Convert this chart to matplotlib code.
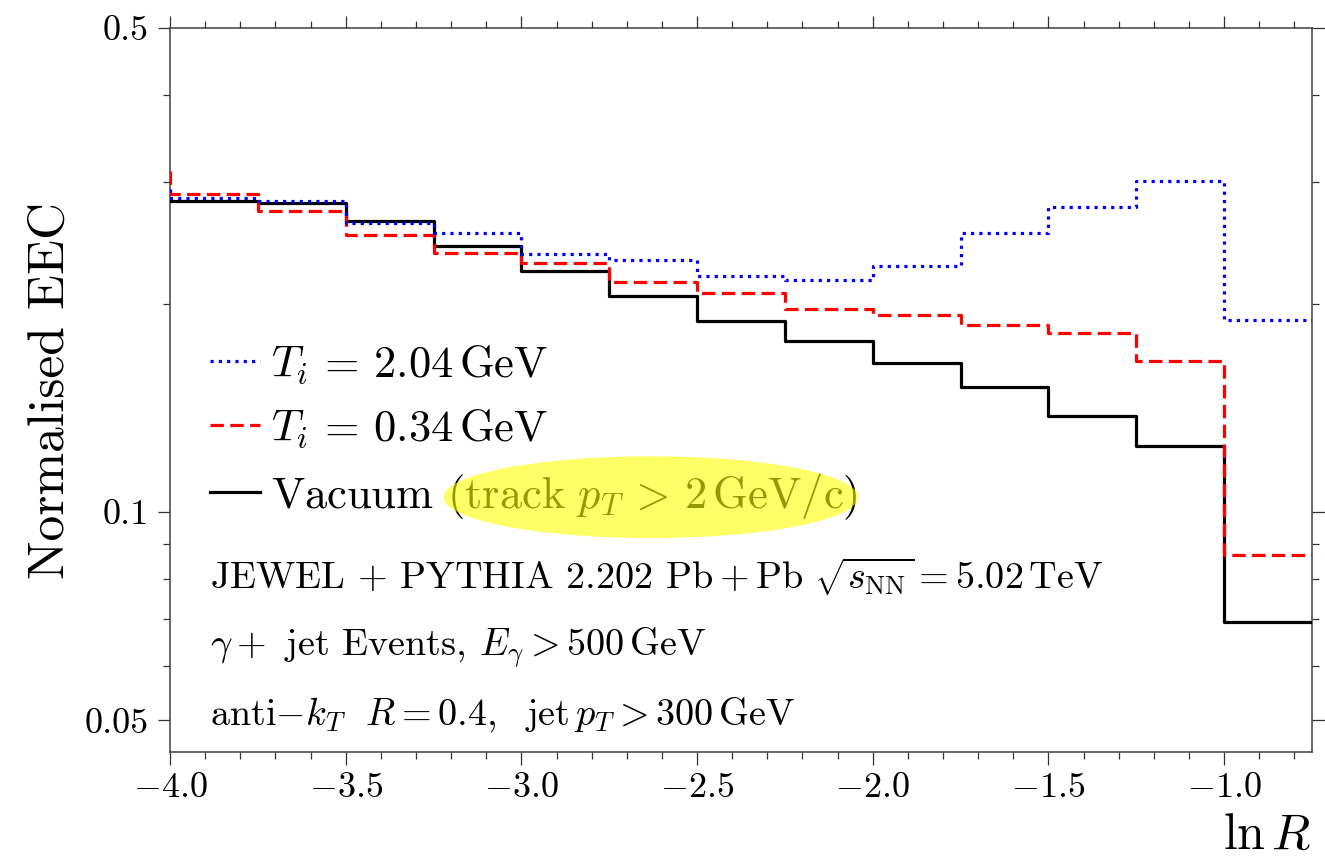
import numpy as np
import matplotlib
matplotlib.use('Agg')
import matplotlib.pyplot as plt
from matplotlib.patches import Ellipse
from matplotlib.ticker import MultipleLocator, NullFormatter, FixedLocator

plt.rcParams['font.family'] = 'serif'
plt.rcParams['font.serif'] = ['cmr10']
plt.rcParams['mathtext.fontset'] = 'cm'
plt.rcParams['axes.formatter.use_mathtext'] = True

# bin edges in ln R
lnR_edges = [-4.0, -3.75, -3.5, -3.25, -3.0, -2.75, -2.5, -2.25, -2.0,
             -1.75, -1.5, -1.25, -1.0, -0.75]

# normalised EEC per bin
hot_vals = [0.284, 0.2816, 0.2612, 0.2526, 0.2358, 0.2312, 0.2192, 0.2163,
            0.2266, 0.2526, 0.2760, 0.3009, 0.1891]      # T_i = 2.04 GeV
cold_vals = [0.288, 0.272, 0.2513, 0.2368, 0.2286, 0.2147, 0.2074, 0.1963,
             0.1926, 0.1863, 0.1812, 0.1652, 0.0867]     # T_i = 0.34 GeV
vac_vals = [0.2816, 0.2797, 0.2635, 0.2422, 0.2231, 0.2051, 0.1888, 0.1766,
            0.1643, 0.1514, 0.1374, 0.1246, 0.0693]      # vacuum

# value where each step line starts at the left edge
hot_start = 0.293
cold_start = 0.311
vac_start = vac_vals[0]

labels = [r'$T_i\,=\,2.04\,\mathrm{GeV}$',
          r'$T_i\,=\,0.34\,\mathrm{GeV}$',
          r'Vacuum $(\mathrm{track}\ p_T\,>\,2\,\mathrm{GeV/c})$']

info_lines = [r'JEWEL $+$ PYTHIA 2.202 $\mathrm{Pb} + \mathrm{Pb}\ \sqrt{s_{\mathrm{NN}}} = 5.02\,\mathrm{TeV}$',
              r'$\gamma +$ jet Events, $E_\gamma > 500\,\mathrm{GeV}$',
              r'anti$-k_T\ \ R = 0.4,\ \ \mathrm{jet}\,p_T > 300\,\mathrm{GeV}$']

fig = plt.figure(figsize=(13.25, 8.57), dpi=100)
ax = fig.add_axes([0.1283, 0.1225, 0.8619, 0.8448])

lw = 2.3
ax.step(lnR_edges, [vac_start] + vac_vals, where='pre', color='black', lw=lw, label=labels[2], zorder=3)
ax.step(lnR_edges, [cold_start] + cold_vals, where='pre', color='#ff0000', lw=lw,
        dashes=(4.2, 2.0), label=labels[1], zorder=4)
ax.step(lnR_edges, [hot_start] + hot_vals, where='pre', color='#0000ff', lw=lw,
        dashes=(1.0, 1.6), label=labels[0], zorder=5)

ax.set_yscale('log')
ax.set_xlim(-4.0, -0.75)
ax.set_ylim(0.045, 0.5)

ax.set_yticks([0.05, 0.1, 0.5])
ax.set_yticklabels(['0.05', '0.1', '0.5'])
ax.yaxis.set_minor_locator(FixedLocator([0.06, 0.07, 0.08, 0.09, 0.2, 0.3, 0.4]))
ax.yaxis.set_minor_formatter(NullFormatter())
ax.xaxis.set_major_locator(MultipleLocator(0.5))
ax.xaxis.set_minor_locator(MultipleLocator(0.1))

ax.tick_params(which='both', direction='out', top=True, right=True, labelsize=26,
               width=0.9, color='0.2')
ax.tick_params(which='major', length=9, pad=6)
ax.tick_params(which='minor', length=5)
for s in ax.spines.values():
    s.set_color('0.25')
    s.set_linewidth(1.1)

ax.set_ylabel('Normalised EEC', fontsize=37, labelpad=8)
ax.set_xlabel(r'$\ln R$', fontsize=36, loc='right', labelpad=6)

h, l = ax.get_legend_handles_labels()
order = [2, 1, 0]
ax.legend([h[i] for i in order], [l[i] for i in order], loc='upper left',
          bbox_to_anchor=(0.035, 0.565), frameon=False, fontsize=32,
          handlelength=1.12, handletextpad=0.25, labelspacing=0.48,
          borderpad=0, borderaxespad=0)

info_y = [0.242, 0.144, 0.052]
for y, txt in zip(info_y, info_lines):
    ax.text(0.035, y, txt, transform=ax.transAxes, fontsize=27.5,
            va='center', ha='left')

# yellow highlight over the track cut
ax.add_patch(Ellipse((0.421, 0.352), 0.363, 0.113, transform=ax.transAxes,
                     facecolor='yellow', edgecolor='none', alpha=0.6, zorder=10))

fig.savefig('out.png', dpi=100)
